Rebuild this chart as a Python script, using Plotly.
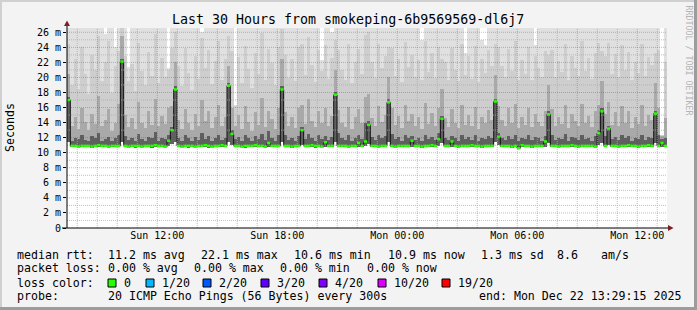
import plotly.graph_objects as go
import pandas as pd

# ---------------- data (ms) : one column per 10 minutes ----------------
START = pd.Timestamp("2025-12-21 07:29:15")
END = pd.Timestamp("2025-12-22 13:29:15")
STEP_MIN = 10

median_ms = [
    17.0, 10.9, 10.9, 10.8, 10.9, 10.9, 10.9, 10.8, 10.9, 11.0, 10.9, 10.9, 10.8, 10.9, 10.9, 10.9,
    22.1, 10.9, 10.8, 10.9, 10.9, 10.9, 10.8, 10.9, 10.9, 10.9, 11.0, 10.9, 10.9, 10.8, 11.6, 13.0,
    18.4, 10.9, 10.8, 10.9, 10.9, 10.9, 10.8, 10.9, 10.9, 11.0, 10.9, 10.8, 10.9, 10.9, 11.0, 10.9,
    18.9, 12.5, 10.9, 10.9, 10.8, 10.9, 10.9, 10.9, 11.0, 10.9, 10.9, 10.8, 11.3, 10.9, 10.9, 10.9,
    18.4, 10.9, 10.9, 10.8, 10.9, 10.9, 13.0, 10.9, 10.9, 11.0, 10.9, 10.9, 10.8, 11.4, 10.9, 10.9,
    17.7, 10.9, 10.9, 10.9, 10.8, 10.9, 10.9, 11.3, 10.9, 11.5, 13.7, 10.9, 10.9, 10.8, 10.9, 10.9,
    16.7, 10.9, 10.8, 10.9, 10.9, 10.9, 10.9, 11.6, 10.9, 10.9, 10.8, 10.9, 10.9, 11.0, 10.9, 11.8,
    14.5, 10.9, 10.9, 11.5, 10.9, 10.8, 10.9, 10.9, 10.9, 11.0, 10.9, 10.9, 10.8, 10.9, 10.9, 10.9,
    16.8, 12.1, 10.9, 10.9, 10.9, 10.8, 10.9, 10.6, 11.0, 10.9, 10.9, 10.8, 10.9, 10.9, 10.9, 11.5,
    15.1, 10.9, 10.9, 10.8, 10.9, 10.9, 10.9, 11.0, 10.9, 10.8, 10.9, 10.9, 10.9, 10.9, 10.8, 12.6,
    15.5, 10.9, 13.2, 10.9, 10.9, 10.8, 10.9, 10.9, 11.0, 10.9, 10.9, 10.8, 10.9, 10.9, 11.0, 10.9,
    15.2, 10.9, 11.3, 10.9,
]
min_ms = [
    11.4, 10.7, 10.7, 10.6, 10.7, 10.7, 10.7, 10.6, 10.7, 10.7, 10.7, 10.7, 10.6, 10.7, 10.7, 10.7,
    11.4, 10.8, 10.7, 10.7, 10.6, 10.7, 10.7, 10.7, 10.7, 10.6, 10.7, 10.7, 10.7, 10.7, 10.9, 11.1,
    11.4, 10.7, 10.7, 10.7, 10.6, 10.7, 10.7, 10.7, 10.7, 10.7, 10.6, 10.7, 10.7, 10.7, 10.7, 10.7,
    11.4, 11.0, 10.7, 10.7, 10.7, 10.6, 10.7, 10.7, 10.7, 10.7, 10.7, 10.6, 10.8, 10.7, 10.7, 10.7,
    11.4, 10.7, 10.7, 10.6, 10.7, 10.7, 11.0, 10.7, 10.7, 10.7, 10.6, 10.7, 10.7, 10.8, 10.7, 10.7,
    11.4, 10.7, 10.7, 10.7, 10.6, 10.7, 10.7, 10.8, 10.7, 10.9, 11.2, 10.7, 10.7, 10.6, 10.7, 10.7,
    11.4, 10.7, 10.6, 10.7, 10.7, 10.7, 10.7, 10.8, 10.7, 10.7, 10.6, 10.7, 10.7, 10.7, 10.7, 10.9,
    11.3, 10.7, 10.7, 10.8, 10.7, 10.6, 10.7, 10.7, 10.7, 10.7, 10.7, 10.7, 10.6, 10.7, 10.7, 10.7,
    11.4, 11.0, 10.7, 10.7, 10.7, 10.6, 10.7, 10.5, 10.7, 10.7, 10.7, 10.6, 10.7, 10.7, 10.7, 10.8,
    11.3, 10.7, 10.7, 10.6, 10.7, 10.7, 10.7, 10.7, 10.7, 10.6, 10.7, 10.7, 10.7, 10.7, 10.6, 11.0,
    11.3, 10.7, 11.0, 10.7, 10.7, 10.6, 10.7, 10.7, 10.7, 10.7, 10.7, 10.6, 10.7, 10.7, 10.7, 10.7,
    11.3, 10.7, 10.8, 10.7,
]
# upper edges of the smoke bands (inner = darker)
dark_top_ms = [
    17.4, 11.6, 12.0, 11.8, 12.4, 11.7, 11.5, 12.2, 11.9, 12.6, 11.6, 11.8, 12.1, 11.5, 11.9, 12.3,
    22.5, 12.2, 11.7, 12.0, 11.6, 12.5, 11.8, 11.5, 12.1, 11.9, 12.7, 11.6, 12.0, 11.8, 12.4, 13.4,
    18.8, 12.0, 11.6, 12.3, 11.9, 11.5, 12.1, 11.7, 12.6, 11.8, 12.2, 11.6, 11.9, 12.4, 11.7, 12.0,
    19.3, 13.0, 11.8, 12.1, 11.6, 12.4, 11.9, 11.5, 12.2, 11.8, 12.5, 11.7, 12.9, 12.0, 11.6, 12.3,
    18.8, 12.4, 11.7, 12.0, 11.6, 12.2, 13.4, 11.8, 12.5, 11.9, 11.6, 12.3, 11.8, 12.2, 11.7, 12.1,
    18.1, 12.6, 11.9, 11.7, 12.3, 11.6, 12.0, 12.4, 11.8, 13.9, 14.2, 12.1, 11.7, 12.4, 11.9, 12.2,
    17.1, 12.5, 11.8, 12.1, 11.6, 12.3, 11.9, 12.2, 11.7, 12.0, 11.6, 12.4, 11.8, 12.1, 11.7, 12.6,
    14.9, 12.0, 11.7, 12.2, 11.9, 11.6, 12.4, 11.8, 12.1, 11.7, 12.3, 11.6, 12.0, 11.8, 12.2, 11.9,
    17.2, 12.6, 11.9, 11.7, 12.2, 11.8, 12.4, 11.6, 12.0, 11.8, 12.3, 11.7, 12.1, 11.9, 11.6, 12.2,
    15.5, 12.3, 11.7, 12.0, 11.8, 12.5, 11.6, 12.1, 11.9, 11.7, 12.4, 11.8, 12.0, 11.6, 12.2, 13.0,
    15.9, 12.2, 13.5, 11.8, 12.1, 11.7, 12.4, 11.9, 12.2, 11.6, 12.0, 11.8, 12.3, 11.7, 12.1, 12.0,
    15.6, 12.3, 11.8, 12.0,
]
mid_top_ms = [
    20.5, 13.5, 14.8, 13.2, 16.0, 14.1, 13.0, 15.2, 13.8, 17.5, 13.6, 14.4, 15.8, 12.9, 14.0, 16.5,
    25.5, 15.0, 13.4, 14.6, 13.1, 16.8, 14.0, 13.3, 15.5, 13.7, 17.2, 13.5, 14.9, 13.8, 15.9, 16.2,
    22.0, 14.3, 13.2, 15.8, 13.9, 13.0, 15.1, 13.6, 17.0, 14.2, 15.5, 13.3, 14.7, 16.3, 13.5, 14.8,
    21.5, 16.0, 13.6, 15.0, 13.2, 16.2, 14.1, 12.9, 15.4, 13.7, 17.3, 13.4, 15.6, 14.5, 13.1, 15.9,
    22.5, 15.4, 13.5, 14.8, 13.3, 15.9, 16.4, 13.8, 17.1, 14.2, 13.4, 15.6, 13.9, 16.0, 13.6, 14.9,
    21.0, 15.7, 14.0, 13.4, 16.1, 13.2, 14.7, 15.8, 13.9, 17.4, 17.8, 14.6, 13.5, 16.2, 14.1, 15.0,
    20.0, 15.9, 13.7, 14.9, 13.3, 16.4, 14.2, 15.1, 13.6, 14.8, 13.2, 16.6, 13.8, 15.3, 13.5, 16.0,
    18.5, 14.6, 13.4, 15.8, 14.0, 13.3, 16.3, 13.7, 15.0, 13.5, 16.1, 13.2, 14.8, 13.9, 15.7, 14.3,
    20.3, 16.2, 14.3, 13.6, 15.9, 13.9, 16.5, 13.3, 14.8, 13.7, 16.0, 13.4, 15.2, 14.1, 13.5, 15.6,
    19.0, 15.8, 13.5, 14.7, 13.8, 16.3, 13.3, 15.1, 14.2, 13.6, 16.5, 13.9, 14.9, 13.4, 15.5, 16.4,
    19.5, 15.2, 16.8, 13.7, 15.4, 13.5, 16.2, 14.0, 15.6, 13.3, 14.7, 13.8, 16.3, 13.6, 15.0, 14.4,
    19.2, 15.9, 12.2, 14.6,
]
light_top_ms = [
    24.5, 19.0, 22.5, 18.5, 24.0, 20.5, 17.8, 23.0, 21.0, 25.5, 19.5, 22.0, 24.8, 18.0, 21.5, 23.5,
    27.0, 22.8, 19.5, 21.8, 18.2, 24.6, 20.9, 19.0, 23.4, 20.2, 25.8, 19.3, 22.6, 20.0, 21.0, 23.9,
    26.0, 21.5, 18.8, 23.9, 20.6, 18.4, 22.9, 19.8, 25.2, 21.3, 23.6, 19.1, 22.2, 24.8, 19.6, 22.5,
    25.5, 23.5, 16.2, 22.7, 19.2, 24.2, 21.1, 18.6, 23.3, 20.4, 25.9, 19.7, 23.8, 21.9, 19.0, 24.1,
    26.5, 23.0, 19.9, 22.4, 19.5, 24.0, 24.5, 20.3, 25.4, 21.6, 19.4, 23.7, 20.8, 24.3, 19.8, 22.6,
    25.0, 23.6, 21.0, 19.6, 24.4, 19.3, 22.1, 23.8, 20.5, 25.6, 26.0, 22.0, 19.9, 24.5, 21.2, 22.8,
    24.0, 23.9, 20.2, 22.5, 19.4, 24.7, 21.4, 23.0, 20.1, 22.3, 19.6, 24.9, 20.7, 23.2, 19.9, 24.0,
    22.5, 22.0, 19.7, 23.9, 21.0, 19.5, 24.4, 20.3, 22.8, 19.8, 24.2, 19.4, 22.4, 20.6, 23.7, 21.5,
    24.5, 24.1, 21.5, 20.0, 23.8, 20.8, 24.8, 19.6, 22.3, 20.4, 24.0, 19.7, 22.9, 21.2, 20.0, 23.5,
    23.0, 23.7, 20.1, 22.2, 20.7, 24.5, 19.6, 22.8, 21.3, 20.2, 24.9, 20.9, 22.6, 19.8, 23.3, 24.6,
    23.5, 22.9, 24.6, 20.4, 23.1, 20.0, 24.3, 21.0, 23.4, 19.7, 22.1, 20.6, 24.4, 20.2, 22.7, 21.7,
    23.2, 23.6, 12.4, 22.0,
]
max_ms = [
    27, 27, 27, 27, 27, 27, 27, 27, 27, 27, 27, 25.8, 27, 27, 24.0, 27,
    27, 27, 21.4, 27, 27, 27, 27, 27, 27, 27, 27, 27, 27, 27, 21.3, 27,
    27, 27, 27, 27, 27, 27, 27, 27, 26.0, 27, 27, 27, 27, 27, 27, 27,
    27, 27, 16.4, 27, 27, 27, 27, 27, 27, 27, 27, 27, 27, 27, 27, 27,
    27, 27, 27, 27, 27, 27, 27, 27, 27, 27, 27, 27, 22.3, 27, 27, 26.0,
    27, 27, 27, 27, 27, 27, 27, 27, 27, 27, 27, 27, 27, 27, 27, 27,
    27, 27, 27, 27, 27, 27, 27, 27, 27, 27, 25.0, 27, 27, 27, 27, 27,
    27, 27, 27, 27, 27, 27, 27, 23.3, 27, 27, 27, 27, 25.0, 24.3, 27, 27,
    27, 27, 27, 27, 27, 27, 27, 27, 27, 27, 27, 27, 24.3, 27, 27, 27,
    27, 27, 27, 27, 27, 27, 27, 27, 27, 27, 27, 27, 27, 27, 27, 27,
    27, 27, 27, 27, 27, 27, 27, 27, 27, 27, 27, 27, 27, 27, 27, 27,
    27, 27, 12.4, 27,
]

y_ticks = list(range(0, 27, 2))
y_tick_labels = ["0"] + [f"{v} m" for v in y_ticks[1:]]
x_ticks = ["2025-12-21 12:00", "2025-12-21 18:00", "2025-12-22 00:00",
           "2025-12-22 06:00", "2025-12-22 12:00"]

title_text = "Last 30 Hours from smokeping-6b9569569-dl6j7"
legend_rows = [
    [(16, "median rtt:"), (107.3, "11.2 ms avg"), (200, "22.1 ms max"), (293.3, "10.6 ms min"),
     (386.7, "10.9 ms now"), (480, "1.3 ms sd"), (555.7, "8.6"), (600, "am/s")],
    [(16, "packet loss:"), (107.3, "0.00 % avg"), (193.3, "0.00 % max"), (279.3, "0.00 % min"),
     (366, "0.00 % now")],
    [(16, "loss color:")],
    [(16, "probe:"), (107.3, "20 ICMP Echo Pings (56 Bytes) every 300s"),
     (478.3, "end: Mon Dec 22 13:29:15 2025")],
]
loss_labels = ["0", "1/20", "2/20", "3/20", "4/20", "10/20", "19/20"]
loss_colors = ["#26ff00", "#00b8ff", "#0059ff", "#5e00ff", "#7e00ff", "#dd00ff", "#ff0000"]
loss_box_x = [108, 146, 203, 261, 319, 378, 442]

# ---------------- geometry ----------------
FIG_W, FIG_H = 697, 310
L, T, W, H = 67, 28, 600, 200
Y_MAX = 26.57
FONT = "DejaVu Sans Mono"


def px(x):
    return (x - L) / W


def py(y):
    return (T + H - y) / H


n = len(median_ms)
edges = [START + pd.Timedelta(minutes=STEP_MIN * i) for i in range(n + 1)]
centers = [e + pd.Timedelta(minutes=STEP_MIN / 2) for e in edges[:-1]]
bar_w = STEP_MIN * 60 * 1000

fig = go.Figure()
bands = [(max_ms, "#e0e0e0"), (light_top_ms, "#cecece"), (mid_top_ms, "#a9a9a9"), (dark_top_ms, "#606060")]
for tops, col in bands:
    fig.add_trace(go.Bar(
        x=centers, y=[t - b for t, b in zip(tops, min_ms)], base=min_ms, width=bar_w,
        marker=dict(color=col, line=dict(width=0)), hoverinfo="skip", showlegend=False))

# median: dark step line + green horizontal segments
fig.add_trace(go.Scatter(x=edges, y=median_ms + [median_ms[-1]], mode="lines",
                         line=dict(color="#111111", width=1, shape="hv"),
                         hoverinfo="skip", showlegend=False))
gx, gy = [], []
for i, m in enumerate(median_ms):
    gx += [edges[i], edges[i + 1], None]
    gy += [m, m, None]
fig.add_trace(go.Scatter(x=gx, y=gy, mode="lines", line=dict(color="#26ff00", width=2.5),
                         hoverinfo="skip", showlegend=False))

shapes = []
# grid (drawn above the smoke like rrdtool)
t = pd.Timestamp("2025-12-21 08:00")
while t < END:
    major = t.hour % 3 == 0
    shapes.append(dict(type="line", xref="x", yref="paper", x0=t, x1=t, y0=0, y1=1, layer="above",
                       line=dict(color="rgba(255,0,0,0.35)" if major else "rgba(170,170,170,0.75)",
                                 width=1, dash="1px,1px")))
    t += pd.Timedelta(hours=1)
for v in range(1, 27):
    major = v % 2 == 0
    shapes.append(dict(type="line", xref="paper", yref="y", x0=0, x1=1, y0=v, y1=v, layer="above",
                       line=dict(color="rgba(255,0,0,0.35)" if major else "rgba(170,170,170,0.75)",
                                 width=1, dash="1px,1px")))
# axes lines and arrows
shapes.append(dict(type="line", xref="paper", yref="paper", x0=px(67), x1=px(67), y0=py(228), y1=py(23),
                   layer="above", line=dict(color="#000", width=1)))
shapes.append(dict(type="line", xref="paper", yref="paper", x0=px(62), x1=px(669), y0=py(228), y1=py(228),
                   layer="above", line=dict(color="#000", width=1)))
shapes.append(dict(type="path", xref="paper", yref="paper", layer="above",
                   path=f"M {px(64)} {py(26)} L {px(70)} {py(26)} L {px(67)} {py(20.5)} Z",
                   fillcolor="#7f1f1f", line=dict(width=0)))
shapes.append(dict(type="path", xref="paper", yref="paper", layer="above",
                   path=f"M {px(668)} {py(225)} L {px(668)} {py(231)} L {px(673.5)} {py(228)} Z",
                   fillcolor="#7f1f1f", line=dict(width=0)))
# frame shading
for (x0, y0, x1, y1, c) in [(0, 0, 697, 2, "#d0d0d0"), (0, 0, 2, 310, "#d0d0d0"),
                            (0, 307, 697, 310, "#9c9c9c"), (694, 0, 697, 310, "#9c9c9c")]:
    shapes.append(dict(type="rect", xref="paper", yref="paper", x0=px(x0), x1=px(x1),
                       y0=py(y1), y1=py(y0), fillcolor=c, line=dict(width=0), layer="above"))
# loss colour boxes
for bx, c in zip(loss_box_x, loss_colors):
    shapes.append(dict(type="rect", xref="paper", yref="paper", x0=px(bx), x1=px(bx + 8),
                       y0=py(287), y1=py(279), fillcolor=c, line=dict(color="#000", width=1), layer="above"))

ann = []
ann.append(dict(text=title_text, x=px(347.8), y=py(19.5), xref="paper", yref="paper",
                xanchor="center", yanchor="middle", showarrow=False,
                font=dict(family=FONT, size=13.3, color="#000")))
ann.append(dict(text="Seconds", x=px(10), y=py(128), xref="paper", yref="paper", textangle=-90,
                xanchor="center", yanchor="middle", showarrow=False,
                font=dict(family=FONT, size=11.6, color="#000")))
ann.append(dict(text="RRDTOOL / TOBI OETIKER", x=px(688.5), y=py(60), xref="paper", yref="paper",
                textangle=90, xanchor="center", yanchor="middle", showarrow=False,
                font=dict(family=FONT, size=8.3, color="#b4b4b4")))
row_y = [254.7, 268.3, 282.7, 296.0]
for ry, row in zip(row_y, legend_rows):
    for x0, s in row:
        ann.append(dict(text=s.replace(" ", "&nbsp;"), x=px(x0), y=py(ry), xref="paper", yref="paper",
                        xanchor="left", yanchor="middle", showarrow=False, borderpad=0,
                        font=dict(family=FONT, size=11.6, color="#000")))
for bx, lab in zip(loss_box_x, loss_labels):
    ann.append(dict(text=lab, x=px(bx + 15), y=py(row_y[2]), xref="paper", yref="paper",
                    xanchor="left", yanchor="middle", showarrow=False, borderpad=0,
                    font=dict(family=FONT, size=11.6, color="#000")))

fig.update_layout(
    width=FIG_W, height=FIG_H, margin=dict(l=L, r=FIG_W - L - W, t=T, b=FIG_H - T - H, pad=0),
    paper_bgcolor="#f3f3f3", plot_bgcolor="#ffffff",
    barmode="overlay", bargap=0, showlegend=False,
    shapes=shapes, annotations=ann,
    xaxis=dict(type="date", range=[START, END], showgrid=False, zeroline=False, showline=False,
               tickvals=x_ticks, tickformat="%a %H:%M", ticks="",
               tickfont=dict(family=FONT, size=10, color="#000"), fixedrange=True),
    yaxis=dict(range=[0, Y_MAX], showgrid=False, zeroline=False, showline=False,
               tickvals=y_ticks, ticktext=y_tick_labels, ticks="outside", ticklen=3,
               tickcolor="#000", tickfont=dict(family=FONT, size=10, color="#000"), fixedrange=True),
)

fig.write_html("out.html")
